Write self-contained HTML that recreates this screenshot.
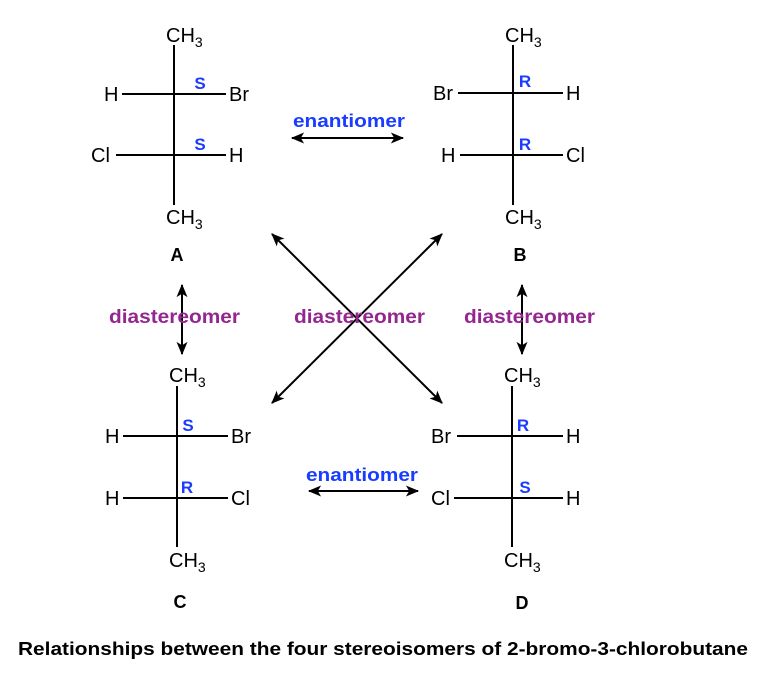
<!DOCTYPE html>
<html><head><style>body{margin:0;background:#fff}svg{display:block}</style></head><body>
<svg width="768" height="679" viewBox="0 0 768 679" xmlns="http://www.w3.org/2000/svg" font-family="Liberation Sans, Arial, sans-serif">
<defs>
<marker id="b" viewBox="0 0 12 10" refX="11" refY="5" markerWidth="14" markerHeight="11" orient="auto-start-reverse" markerUnits="userSpaceOnUse"><path d="M0,0 L12,5 L0,10 L3,5z" fill="#000"/></marker></defs>
<g stroke="#000" stroke-width="2" fill="none">
<line x1="174" y1="45" x2="174" y2="205"/><line x1="122" y1="94" x2="226" y2="94"/><line x1="116" y1="155" x2="226" y2="155"/>
<line x1="513" y1="45" x2="513" y2="205"/><line x1="458" y1="93" x2="563" y2="93"/><line x1="460" y1="155" x2="563" y2="155"/>
<line x1="177" y1="386" x2="177" y2="547"/><line x1="123" y1="436" x2="228" y2="436"/><line x1="123" y1="498" x2="228" y2="498"/>
<line x1="512" y1="386" x2="512" y2="547"/><line x1="457" y1="436" x2="563" y2="436"/><line x1="454" y1="498" x2="563" y2="498"/>
<line x1="292" y1="138" x2="403" y2="138" marker-start="url(#b)" marker-end="url(#b)"/>
<line x1="309" y1="491" x2="418" y2="491" marker-start="url(#b)" marker-end="url(#b)"/>
<line x1="182" y1="285" x2="182" y2="354" marker-start="url(#b)" marker-end="url(#b)"/>
<line x1="522" y1="285" x2="522" y2="354" marker-start="url(#b)" marker-end="url(#b)"/>
<line x1="272" y1="234" x2="442" y2="403" marker-start="url(#b)" marker-end="url(#b)"/>
<line x1="442" y1="234" x2="272" y2="403" marker-start="url(#b)" marker-end="url(#b)"/>
</g>
<g font-size="20" fill="#000">
<text x="166" y="42">CH<tspan font-size="14" dy="5">3</tspan></text>
<text x="104" y="101">H</text><text x="229" y="101">Br</text>
<text x="91" y="162">Cl</text><text x="229" y="162">H</text>
<text x="166" y="224">CH<tspan font-size="14" dy="5">3</tspan></text>
<text x="505" y="42">CH<tspan font-size="14" dy="5">3</tspan></text>
<text x="433" y="100">Br</text><text x="566" y="100">H</text>
<text x="441" y="162">H</text><text x="566" y="162">Cl</text>
<text x="505" y="224">CH<tspan font-size="14" dy="5">3</tspan></text>
<text x="169" y="382">CH<tspan font-size="14" dy="5">3</tspan></text>
<text x="105" y="443">H</text><text x="231" y="443">Br</text>
<text x="105" y="505">H</text><text x="231" y="505">Cl</text>
<text x="169" y="567">CH<tspan font-size="14" dy="5">3</tspan></text>
<text x="504" y="382">CH<tspan font-size="14" dy="5">3</tspan></text>
<text x="431" y="443">Br</text><text x="566" y="443">H</text>
<text x="431" y="505">Cl</text><text x="566" y="505">H</text>
<text x="504" y="567">CH<tspan font-size="14" dy="5">3</tspan></text>
</g>
<g font-size="18" font-weight="bold" fill="#000" text-anchor="middle">
<text x="177" y="261">A</text><text x="520" y="261">B</text><text x="180" y="608">C</text><text x="522" y="609">D</text>
</g>
<g font-size="17" font-weight="bold" fill="#1a3cff" text-anchor="middle">
<text x="200" y="89">S</text><text x="200" y="150">S</text>
<text x="525" y="87">R</text><text x="525" y="150">R</text>
<text x="188" y="431">S</text><text x="187" y="493">R</text>
<text x="523" y="431">R</text><text x="525" y="493">S</text>
</g>
<g font-weight="bold" fill="#1a3cff">
<text x="293" y="127" font-size="18" textLength="112" lengthAdjust="spacingAndGlyphs">enantiomer</text>
<text x="306" y="481" font-size="18" textLength="112" lengthAdjust="spacingAndGlyphs">enantiomer</text>
</g>
<g font-size="19" font-weight="bold" fill="#93278f">
<text x="109" y="323" textLength="131" lengthAdjust="spacingAndGlyphs">diastereomer</text>
<text x="294" y="323" textLength="131" lengthAdjust="spacingAndGlyphs">diastereomer</text>
<text x="464" y="323" textLength="131" lengthAdjust="spacingAndGlyphs">diastereomer</text>
</g>
<text x="18" y="655" font-size="18" font-weight="bold" textLength="730" lengthAdjust="spacingAndGlyphs">Relationships between the four stereoisomers of 2-bromo-3-chlorobutane</text>
</svg>
</body></html>
